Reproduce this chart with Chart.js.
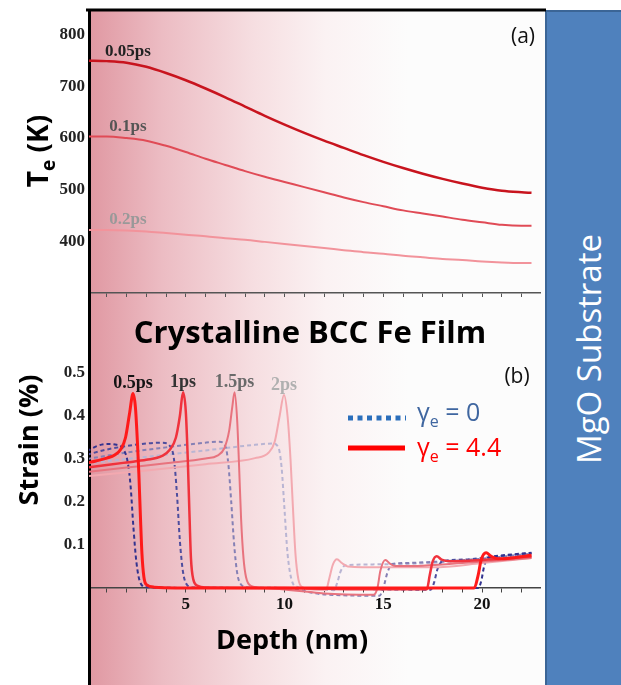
<!DOCTYPE html>
<html>
<head>
<meta charset="utf-8">
<script src="https://cdn.jsdelivr.net/npm/chart.js@4.4.1/dist/chart.umd.min.js"></script>
<style>
  html, body { margin: 0; padding: 0; background: #fff; }
  #page { position: relative; width: 621px; height: 685px; overflow: hidden; background: #fff; }
  #film { position: absolute; left: 89px; top: 10px; width: 456px; height: 675px;
    background: linear-gradient(to right, rgb(224,152,162) 0%, rgb(236,188,195) 16%, rgb(246,222,225) 36%, rgb(251,242,243) 52%, #fcfcfc 70%, #fcfcfc 100%); }
  #substrate { position: absolute; left: 545px; top: 10px; width: 76px; height: 675px; background: #4f81bd;
    border-left: 2px solid #3b6596; border-top: 2px solid #3b6596; box-sizing: border-box; }
  #substrate span { position: absolute; left: 41px; top: 337px; transform: translate(-50%, -50%) rotate(-90deg);
    color: #fff; font: 33px "Open Sans"; white-space: nowrap; }
  canvas { position: absolute; left: 0; }
  #chartA { top: 0; }
  #chartB { top: 283px; }
</style>
</head>
<body>
<div id="page">
  <div id="film"></div>
  <div id="substrate"><span>MgO Substrate</span></div>
  <canvas id="chartA" width="621" height="300"></canvas>
  <canvas id="chartB" width="621" height="402"></canvas>
</div>
<script>
// panel (a): electron temperature vs depth
const depthTe = [0, 1, 2, 3, 4, 5, 6, 7, 8, 9, 10, 11, 12, 13, 14, 15, 16, 17, 18, 19, 20, 21, 22, 22.5];
const te005 = [750, 749, 746, 738, 726, 712, 696, 679, 661, 643, 626, 610, 595, 581, 567, 554, 542, 531, 521, 512, 504, 498, 495, 494];
const te01 = [603, 603, 600, 595, 585, 573, 560, 548, 536, 525, 515, 505, 495, 485, 476, 468, 460, 454, 448, 442, 437, 432, 430, 430];
const te02 = [422, 422, 421, 419, 416, 413, 410, 406, 403, 399, 395, 391, 387, 383, 379, 376, 372, 369, 366, 364, 361, 359, 358, 358];
const teTimes = ['0.05ps', '0.1ps', '0.2ps'];
const teTicks = [400, 500, 600, 700, 800];

// panel (b): strain vs depth, [depth nm, strain %]
const red05 = [[0,0.291],[0.5,0.296],[1,0.302],[1.4,0.309],[1.7,0.322],[1.95,0.35],[2.15,0.405],[2.33,0.452],[2.45,0.42],[2.55,0.34],[2.62,0.27],[2.7,0.17],[2.78,0.08],[2.88,0.025],[3,0.008],[3.4,0.002],[6,0],[10,0],[15,0],[19.6,0],[19.8,0.03],[19.95,0.065],[20.2,0.082],[20.45,0.074],[20.8,0.068],[21.5,0.07],[22.5,0.076]];
const blue05 = [[0,0.318],[0.5,0.33],[1,0.335],[1.5,0.333],[1.85,0.322],[2.05,0.295],[2.2,0.24],[2.35,0.14],[2.5,0.06],[2.7,0.012],[3,0.002],[6,0],[19.8,0],[19.95,0.015],[20.1,0.05],[20.3,0.07],[20.6,0.074],[21.5,0.078],[22.5,0.082]];
const red10 = [[0,0.28],[1,0.286],[2,0.292],[3,0.298],[3.8,0.307],[4.2,0.322],[4.5,0.35],[4.7,0.4],[4.86,0.455],[5,0.41],[5.1,0.3],[5.18,0.18],[5.26,0.07],[5.38,0.02],[5.6,0.005],[6,0.001],[10,0],[14,-0.003],[17.2,-0.003],[17.35,0.03],[17.5,0.062],[17.7,0.074],[17.95,0.066],[18.4,0.062],[20,0.065],[22.5,0.073]];
const blue10 = [[0,0.31],[1,0.322],[2,0.33],[3,0.336],[3.8,0.338],[4.2,0.33],[4.4,0.3],[4.55,0.22],[4.7,0.11],[4.85,0.04],[5.05,0.008],[5.4,0.001],[10,0],[17.4,-0.004],[17.55,0.01],[17.75,0.045],[18,0.062],[19,0.066],[20.5,0.072],[22.5,0.081]];
const red15 = [[0,0.27],[2,0.28],[4,0.29],[6,0.301],[6.6,0.308],[6.95,0.325],[7.2,0.367],[7.35,0.42],[7.47,0.455],[7.6,0.39],[7.7,0.28],[7.8,0.16],[7.92,0.07],[8.05,0.025],[8.3,0.005],[9,0],[11,-0.008],[12,-0.013],[14.5,-0.016],[14.7,0],[14.85,0.04],[15.1,0.065],[15.35,0.056],[15.6,0.051],[17,0.052],[19,0.058],[22.5,0.07]];
const blue15 = [[0,0.3],[2,0.315],[4,0.327],[6,0.338],[6.7,0.34],[7,0.33],[7.15,0.29],[7.3,0.2],[7.45,0.1],[7.6,0.035],[7.8,0.008],[8.2,0.001],[10,0],[12,-0.015],[14.8,-0.018],[15,0],[15.2,0.035],[15.45,0.056],[16,0.058],[18,0.062],[20,0.068],[22.5,0.08]];
const red20 = [[0,0.26],[3,0.273],[6,0.288],[8.5,0.302],[9.2,0.315],[9.5,0.34],[9.75,0.4],[9.97,0.449],[10.15,0.4],[10.3,0.3],[10.42,0.19],[10.55,0.08],[10.7,0.02],[10.9,0.002],[11.5,-0.004],[12.1,-0.005],[12.25,0.02],[12.45,0.055],[12.65,0.067],[12.9,0.058],[13.2,0.05],[15,0.048],[17.5,0.048],[20,0.058],[22.5,0.07]];
const blue20 = [[0,0.29],[3,0.305],[6,0.32],[8.5,0.333],[9.4,0.336],[9.7,0.325],[9.85,0.28],[10,0.18],[10.15,0.08],[10.35,0.02],[10.6,0.003],[11.5,-0.002],[12.5,-0.005],[12.65,0.01],[12.85,0.04],[13.1,0.053],[15,0.055],[18,0.06],[20,0.068],[22.5,0.08]];
const strainTimes = ['0.5ps', '1ps', '1.5ps', '2ps'];
const strainTicks = [0.1, 0.2, 0.3, 0.4, 0.5];

const depthTicks = [1, 2, 3, 4, 5, 6, 7, 8, 9, 10, 11, 12, 13, 14, 15, 16, 17, 18, 19, 20, 21, 22];
const depthLabels = [5, 10, 15, 20];

const X_MIN = 0.1, X_MAX = 22.93;

const xy = (xs, ys) => xs.map((x, i) => ({ x, y: ys[i] }));
const pts = arr => arr.map(([x, y]) => ({ x, y }));
const setTicks = vals => s => { s.ticks = vals.map(v => ({ value: v })); };
const serif = { family: 'Liberation Serif', weight: 'bold', size: 17 };

const common = {
  responsive: false,
  animation: false,
  events: [],
  elements: { point: { radius: 0 }, line: { cubicInterpolationMode: 'monotone' } },
  plugins: { legend: { display: false }, tooltip: { enabled: false } }
};

const yAxis = (min, max, vals, fmt) => ({
  type: 'linear', min, max,
  afterBuildTicks: setTicks(vals),
  ticks: { font: serif, color: '#222', padding: 4, callback: fmt },
  grid: { display: false, drawTicks: false },
  border: { color: '#000', width: 3 },
  afterFit: s => { s.width = 89; s.paddingTop = 0; s.paddingBottom = 0; }
});

// ---------- panel (a)
const teColors = ['#c8141e', '#e04b56', '#f2939b'];
const teLabelColors = ['#222', '#555', '#999'];

const panelA = {
  id: 'panelA',
  afterDraw(chart) {
    const { ctx, chartArea: a, scales: { x, y } } = chart;
    ctx.save();
    ctx.strokeStyle = '#000';
    ctx.lineWidth = 3;
    ctx.beginPath();
    ctx.moveTo(a.left - 3, a.top);
    ctx.lineTo(546, a.top);
    ctx.stroke();

    ctx.textAlign = 'center';
    ctx.textBaseline = 'middle';
    ctx.font = 'bold 17px "Liberation Serif"';
    [te005, te01, te02].forEach((s, i) => {
      ctx.fillStyle = teLabelColors[i];
      ctx.fillText(teTimes[i], x.getPixelForValue(2.07), y.getPixelForValue(s[2]) - 11);
    });

    ctx.fillStyle = '#111';
    ctx.font = '21px "Open Sans"';
    ctx.fillText('(a)', 523, 37);

    // y title T_e (K)
    ctx.translate(40, 151);
    ctx.rotate(-Math.PI / 2);
    ctx.textAlign = 'left';
    ctx.textBaseline = 'alphabetic';
    ctx.font = 'bold 28px "Open Sans"';
    const wT = ctx.measureText('T').width;
    ctx.font = 'bold 19px "Open Sans"';
    const wE = ctx.measureText('e').width;
    ctx.font = 'bold 28px "Open Sans"';
    const wK = ctx.measureText(' (K)').width;
    let x0 = -(wT + wE + wK) / 2;
    ctx.fillStyle = '#000';
    ctx.fillText('T', x0, 8);
    ctx.font = 'bold 19px "Open Sans"';
    ctx.fillText('e', x0 + wT, 15);
    ctx.font = 'bold 28px "Open Sans"';
    ctx.fillText(' (K)', x0 + wT + wE, 8);
    ctx.restore();
  }
};

new Chart('chartA', {
  type: 'line',
  data: {
    datasets: [te005, te01, te02].map((s, i) => ({
      label: teTimes[i], data: xy(depthTe, s), borderColor: teColors[i], borderWidth: i === 0 ? 2.5 : 2
    }))
  },
  options: {
    ...common,
    layout: { padding: { top: 10, right: 81, bottom: 0, left: 0 } },
    scales: {
      x: {
        type: 'linear', min: X_MIN, max: X_MAX,
        afterBuildTicks: setTicks(depthTicks),
        ticks: { display: false },
        grid: { drawOnChartArea: false, tickLength: 4, color: '#555' },
        border: { color: '#555', width: 1.5 },
        afterFit: s => { s.height = 7; s.paddingLeft = 0; s.paddingRight = 0; }
      },
      y: yAxis(300, 848, teTicks, v => String(v))
    }
  },
  plugins: [panelA]
});

// ---------- panel (b)
const redColors = ['#ff1a1a', '#f0323c', '#e8737e', '#f3a9b0'];
const redWidths = [3, 2.5, 2, 2];
const blueColors = ['#33338f', '#4d4d9e', '#8580b5', '#b9b5d3'];
const timeLabelColors = ['#141414', '#333', '#6a6a6a', '#b0b0b0'];
const redSeries = [red05, red10, red15, red20];
const blueSeries = [blue05, blue10, blue15, blue20];

const panelB = {
  id: 'panelB',
  afterDraw(chart) {
    const { ctx, scales: { x, y } } = chart;
    ctx.save();
    ctx.textAlign = 'center';
    ctx.textBaseline = 'middle';

    ctx.font = 'bold 18px "Liberation Serif"';
    redSeries.forEach((s, i) => {
      const peak = s.reduce((m, p) => (p[1] > m[1] ? p : m), s[0]);
      ctx.fillStyle = timeLabelColors[i];
      ctx.fillText(strainTimes[i], x.getPixelForValue(peak[0]), y.getPixelForValue(peak[1]) - 10);
    });

    ctx.fillStyle = '#000';
    ctx.font = 'bold 31px "Open Sans"';
    ctx.fillText('Crystalline BCC Fe Film', 310, 51);

    ctx.font = '21px "Open Sans"';
    ctx.fillStyle = '#111';
    ctx.fillText('(b)', 517, 94);

    ctx.font = 'bold 27px "Open Sans"';
    ctx.fillStyle = '#000';
    ctx.fillText('Depth (nm)', 292, 358);

    // legend
    ctx.lineWidth = 5;
    ctx.strokeStyle = '#2a6ebb';
    ctx.setLineDash([5, 4.5]);
    ctx.beginPath(); ctx.moveTo(348, 135); ctx.lineTo(406, 135); ctx.stroke();
    ctx.setLineDash([]);
    ctx.strokeStyle = '#ff0000';
    ctx.beginPath(); ctx.moveTo(348, 165); ctx.lineTo(405, 165); ctx.stroke();

    ctx.textAlign = 'left';
    ctx.textBaseline = 'alphabetic';
    const entry = (text, color, base) => {
      ctx.fillStyle = color;
      let px = 417;
      ctx.font = '25px "Open Sans"';
      ctx.fillText('\u03b3', px, base);
      px += ctx.measureText('\u03b3').width;
      ctx.font = '16px "Open Sans"';
      ctx.fillText('e', px, base + 6);
      px += ctx.measureText('e').width;
      ctx.font = '25px "Open Sans"';
      ctx.fillText(text, px, base);
    };
    entry(' = 0', '#3f66a0', 138);
    entry(' = 4.4', '#ff0000', 173);

    // y title
    ctx.translate(30, 157);
    ctx.rotate(-Math.PI / 2);
    ctx.textAlign = 'center';
    ctx.textBaseline = 'middle';
    ctx.font = 'bold 27px "Open Sans"';
    ctx.fillStyle = '#000';
    ctx.fillText('Strain (%)', 0, 0);
    ctx.restore();
  }
};

const strainSets = [];
redSeries.forEach((s, i) => strainSets.push({
  label: 'γe = 4.4 ' + strainTimes[i], data: pts(s), borderColor: redColors[i], borderWidth: redWidths[i]
}));
blueSeries.forEach((s, i) => strainSets.push({
  label: 'γe = 0 ' + strainTimes[i], data: pts(s), borderColor: blueColors[i], borderWidth: 2, borderDash: [4, 3]
}));

new Chart('chartB', {
  type: 'line',
  data: { datasets: strainSets },
  options: {
    ...common,
    layout: { padding: { top: 10, right: 81, bottom: 0, left: 0 } },
    scales: {
      x: {
        type: 'linear', min: X_MIN, max: X_MAX, position: { y: 0 },
        afterBuildTicks: setTicks(depthTicks),
        ticks: {
          font: { family: 'Liberation Serif', weight: 'bold', size: 17 }, color: '#111',
          autoSkip: false, maxRotation: 0, padding: 2,
          callback: v => (depthLabels.includes(v) ? String(v) : '')
        },
        grid: { drawOnChartArea: false, tickLength: 4, color: '#444' },
        border: { color: '#444', width: 1.5 },
        afterFit: s => { s.paddingLeft = 0; s.paddingRight = 0; }
      },
      y: yAxis(-0.2256, 0.686, strainTicks, v => v.toFixed(1))
    }
  },
  plugins: [panelB]
});
</script>
</body>
</html>
